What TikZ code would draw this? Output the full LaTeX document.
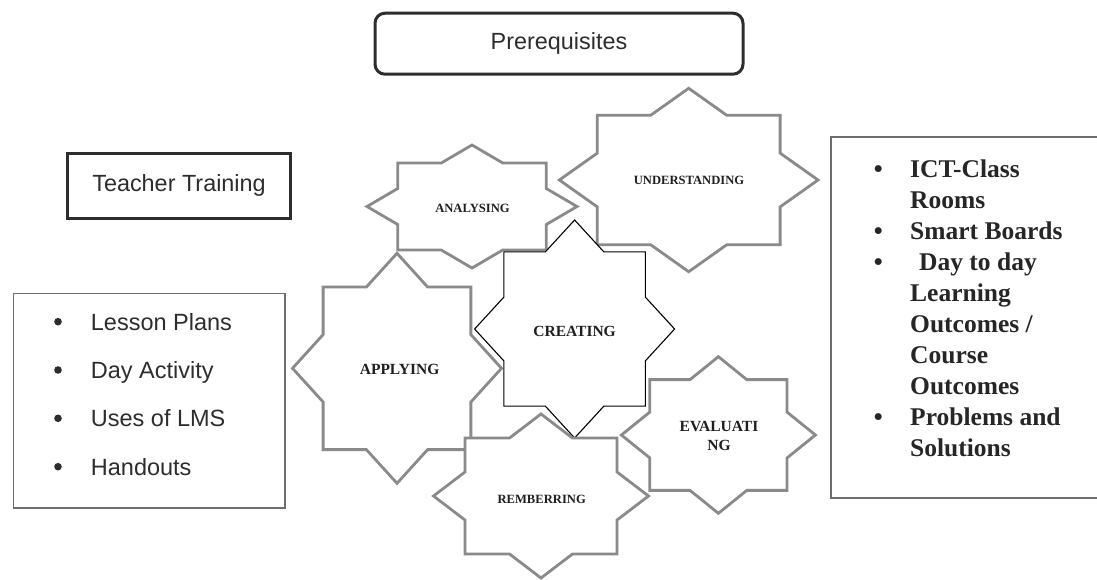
\documentclass[tikz,border=0pt]{standalone}
\usepackage{fontspec}
\setmainfont{Liberation Serif}
\newfontfamily\arialf{Liberation Sans}
\definecolor{stargray}{RGB}{138,138,138}
\definecolor{inkdark}{RGB}{45,45,45}
\definecolor{boxgray}{RGB}{110,110,110}
\newcommand{\mystar}[5]{%
  \begin{scope}[shift={(#1,#2)},xscale=#3,yscale=#4]
    \filldraw[#5] (1,0) -- (0.7071,0.2929) -- (0.7071,0.7071) -- (0.2929,0.7071)
      -- (0,1) -- (-0.2929,0.7071) -- (-0.7071,0.7071) -- (-0.7071,0.2929)
      -- (-1,0) -- (-0.7071,-0.2929) -- (-0.7071,-0.7071) -- (-0.2929,-0.7071)
      -- (0,-1) -- (0.2929,-0.7071) -- (0.7071,-0.7071) -- (0.7071,-0.2929) -- cycle;
  \end{scope}}
\tikzset{
  graystar/.style={draw=stargray, fill=white, line width=2.8pt, line join=miter},
  blackstar/.style={draw=black, fill=white, line width=1.1pt, line join=miter},
  biglbl/.style={inner sep=0pt, text=black!88, font=\fontsize{15.5}{19}\selectfont\bfseries, align=center},
  smalllbl/.style={inner sep=0pt, text=black!88, font=\fontsize{12.6}{15}\selectfont\bfseries},
  headbox/.style={draw=inkdark, line width=3pt, text=inkdark, font=\arialf\fontsize{23.4}{28}\selectfont},
  litem/.style={inner sep=0pt, anchor=base west, text=inkdark, font=\arialf\fontsize{23.5}{28}\selectfont},
  lbullet/.style={circle, fill=inkdark, inner sep=0pt, minimum size=7.6pt},
  rlist/.style={inner sep=0pt, anchor=base west, align=left, text=black!85, font=\fontsize{25.5}{31}\selectfont\bfseries}
}
\newcommand{\rb}{\llap{\textbullet\hspace{27.5pt}}}
\begin{document}
\begin{tikzpicture}[x=1pt,y=-1pt]
  \useasboundingbox (0,0) rectangle (1097,579);
  \fill[white] (0,0) rectangle (1097,579);
  \clip (0,0) rectangle (1097,579);

  % top box
  \node[headbox, rounded corners=10pt, minimum width=368pt, minimum height=61pt] (prereq) at (559,43.7) {Prerequisites};
  % teacher training
  \node[headbox, line width=3.4pt, minimum width=223pt, minimum height=65pt] (teacher) at (179,185.8) {Teacher Training};

  % left list box
  \draw[boxgray, line width=1.2pt] (13.3,293.3) rectangle (285,508);
  \node[lbullet] (lb1) at (58,321.7) {};
  \node[lbullet] (lb2) at (58,370) {};
  \node[lbullet] (lb3) at (58,418.3) {};
  \node[lbullet] (lb4) at (58,466.7) {};
  \node[litem] (l1) at (90.7,330) {Lesson Plans};
  \node[litem] (l2) at (90.7,378.4) {Day Activity};
  \node[litem] (l3) at (90.7,426.7) {Uses of LMS};
  \node[litem] (l4) at (90.7,475) {Handouts};

  % right list box
  \draw[boxgray, line width=1.4pt] (831,137) rectangle (1110,498);
  \node[rlist] (rightlist) at (910,456) {\rb ICT-Class\\Rooms\\\rb Smart Boards\\\rb\hspace{9pt}Day to day\\Learning\\Outcomes /\\Course\\Outcomes\\\rb Problems and\\Solutions};

  % stars
  \mystar{397}{368.3}{104.5}{115}{graystar}
  \mystar{472}{206.5}{105}{61.5}{graystar}
  \mystar{688.7}{180}{129.3}{91.7}{graystar}
  \mystar{574.6}{329}{100}{109}{blackstar}
  \mystar{718.4}{435}{97}{78.3}{graystar}
  \mystar{541}{496}{107.5}{82}{graystar}

  \node[smalllbl] (analysing) at (472.5,208.3) {ANALYSING};
  \node[smalllbl] (understanding) at (689,180) {UNDERSTANDING};
  \node[biglbl] (creating) at (574.6,331.7) {CREATING};
  \node[biglbl] (applying) at (399.6,369) {APPLYING};
  \node[biglbl] (evaluating) at (719,435.5) {EVALUATI\\NG};
  \node[smalllbl] (remberring) at (541.7,499) {REMBERRING};
\end{tikzpicture}
\end{document}
